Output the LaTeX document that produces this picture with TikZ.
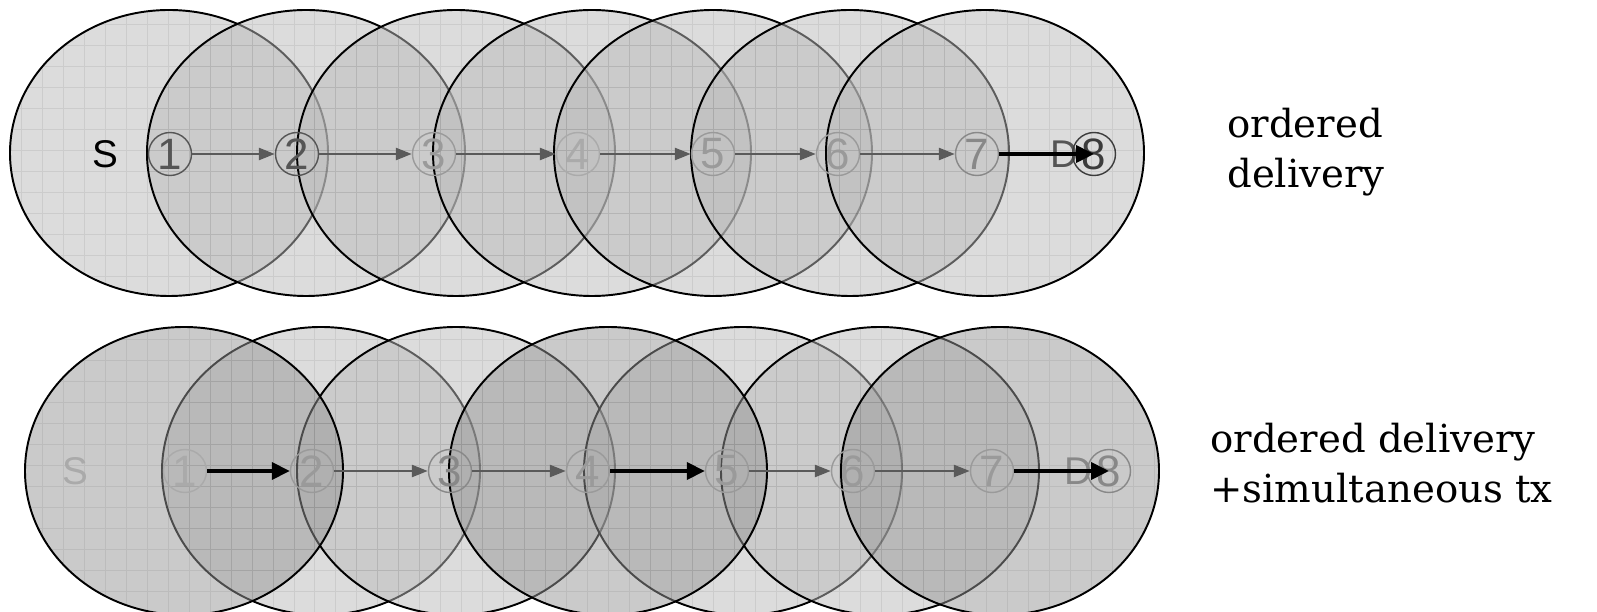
\documentclass[tikz,border=0pt]{standalone}
\usepackage{fontspec}
\setmainfont{DejaVu Serif}
\setsansfont{Liberation Sans}
\usetikzlibrary{arrows.meta,positioning}
\definecolor{cellfill}{HTML}{BABABA}
\definecolor{busyfill}{HTML}{969696}
\definecolor{bk80}{HTML}{3C3C3C}
\definecolor{bk70}{HTML}{555555}
\definecolor{bk60}{HTML}{5A5A5A}
\definecolor{bk50}{HTML}{888888}
\definecolor{bk40}{HTML}{9A9A9A}
\definecolor{bk30}{HTML}{AAAAAA}
\tikzset{
  cell/.style={
    fill=#1, fill opacity=0.5, draw=black, line width=1.1pt,
    path picture={\draw[gridline] (path picture bounding box.south west)
      grid (path picture bounding box.north east);}
  },
  cell/.default=cellfill,
  gridline/.style={draw=black, opacity=0.07, line width=0.5pt, step=0.42cm},
  hopnode/.style={
    circle, draw=#1, text=#1, line width=0.8pt,
    minimum size=0.86cm, inner sep=0pt,
    font=\sffamily\fontsize{25}{25}\selectfont
  },
  hopnode/.default=bk40,
  endnode/.style={
    text=#1, inner sep=0pt,
    font=\sffamily\fontsize{22}{22}\selectfont
  },
  endnode/.default=black,
  hoparrow/.style={
    -{Triangle[length=0.32cm, width=0.24cm]}, line width=1.4pt, color=bk60
  },
  txarrow/.style={
    -{Triangle[length=0.36cm, width=0.34cm]}, line width=2.2pt, color=black
  },
  caption/.style={
    anchor=base west, align=left, inner sep=0pt,
    font=\fontsize{22}{28.5}\selectfont
  },
}

\begin{document}
\begin{tikzpicture}[x=0.02cm, y=0.02cm]
  \useasboundingbox (0,0) rectangle (1597,612);

  % Top row: ranges, each one over the last
  \draw[cell] (169,459) ellipse [x radius=159, y radius=143];
  \draw[cell] (306,459) ellipse [x radius=159, y radius=143];
  \draw[cell] (456,459) ellipse [x radius=159, y radius=143];
  \draw[cell] (592,459) ellipse [x radius=159, y radius=143];
  \draw[cell] (713,459) ellipse [x radius=159, y radius=143];
  \draw[cell] (850,459) ellipse [x radius=159, y radius=143];
  \draw[cell] (985,459) ellipse [x radius=159, y radius=143];

  \node[endnode] (ts) at (105,458) {S};
  \node[hopnode=bk70] (t1) at (170,458) {1};
  \node[hopnode=bk70] (t2) at (297,458) {2};
  \node[hopnode] (t3) at (434,458) {3};
  \node[hopnode=bk30] (t4) at (578,458) {4};
  \node[hopnode] (t5) at (713,458) {5};
  \node[hopnode] (t6) at (838,458) {6};
  \node[hopnode=bk50] (t7) at (977,458) {7};
  \node[endnode=bk70] (td) at (1064,458) {D};
  \node[hopnode=bk80] (t8) at (1094,458) {8};

  \draw[hoparrow] (t1) -- (t2);
  \draw[hoparrow] (t2) -- (t3);
  \draw[hoparrow] (t3) -- (t4);
  \draw[hoparrow] (t4) -- (t5);
  \draw[hoparrow] (t5) -- (t6);
  \draw[hoparrow] (t6) -- (t7);
  \draw[txarrow] (t7) -- (t8.center);

  % Bottom row: idle ranges first, then the ones sending together
  \draw[cell] (321,141) ellipse [x radius=159, y radius=144];
  \draw[cell] (456,141) ellipse [x radius=159, y radius=144];
  \draw[cell] (743,141) ellipse [x radius=159, y radius=144];
  \draw[cell] (880,141) ellipse [x radius=159, y radius=144];
  \draw[cell=busyfill] (184,141) ellipse [x radius=159, y radius=144];
  \draw[cell=busyfill] (608,141) ellipse [x radius=159, y radius=144];
  \draw[cell=busyfill] (1000,141) ellipse [x radius=159, y radius=144];

  \node[endnode=bk30] (bs) at (75,141) {S};
  \node[hopnode=bk30] (b1) at (185,141) {1};
  \node[hopnode] (b2) at (312,141) {2};
  \node[hopnode=bk50] (b3) at (450,141) {3};
  \node[hopnode] (b4) at (588,141) {4};
  \node[hopnode] (b5) at (727,141) {5};
  \node[hopnode] (b6) at (853,141) {6};
  \node[hopnode] (b7) at (992,141) {7};
  \node[endnode=bk50] (bd) at (1078,141) {D};
  \node[hopnode=bk50] (b8) at (1109,141) {8};

  \draw[txarrow] (b1) -- (b2);
  \draw[hoparrow] (b2) -- (b3);
  \draw[hoparrow] (b3) -- (b4);
  \draw[txarrow] (b4) -- (b5);
  \draw[hoparrow] (b5) -- (b6);
  \draw[hoparrow] (b6) -- (b7);
  \draw[txarrow] (b7) -- (b8.center);

  \node[caption] (cap1) at (1227,424) {ordered\\delivery};
  \node[caption] (cap2) at (1210,109) {ordered delivery\\+simultaneous tx};
\end{tikzpicture}
\end{document}
